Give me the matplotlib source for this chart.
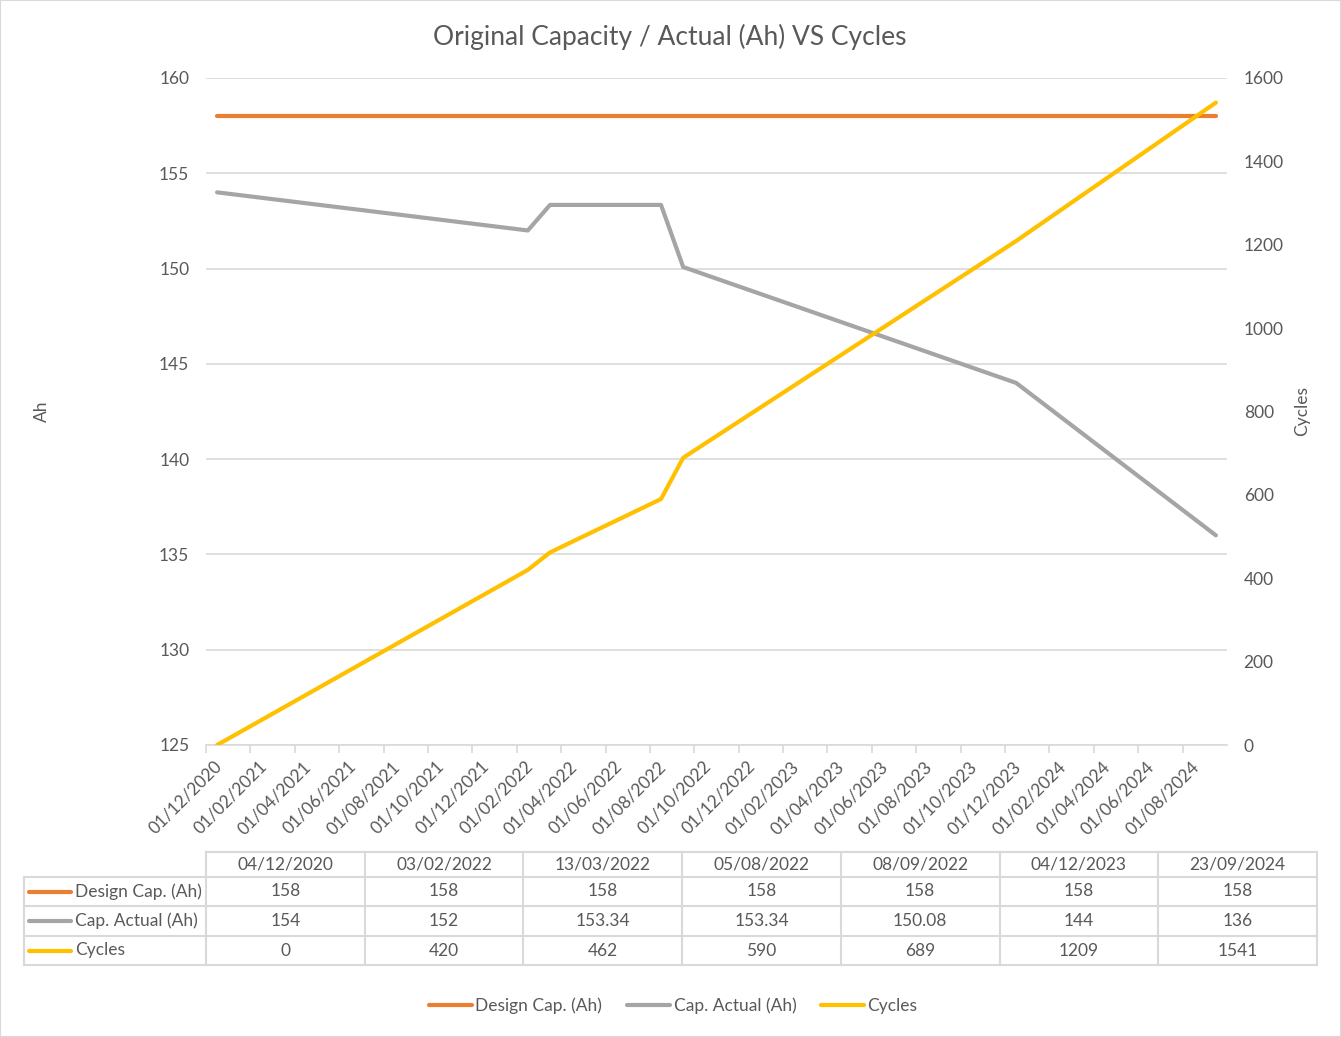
import matplotlib.pyplot as plt
import matplotlib.transforms as mtrans
import pandas as pd
from matplotlib.lines import Line2D
from matplotlib.patches import Rectangle

plt.rcParams['font.family'] = ['Lato', 'DejaVu Sans']

dates = ["04/12/2020", "03/02/2022", "13/03/2022", "05/08/2022",
         "08/09/2022", "04/12/2023", "23/09/2024"]
design_cap = [158, 158, 158, 158, 158, 158, 158]
actual_cap = [154, 152, 153.34, 153.34, 150.08, 144, 136]
cycles = [0, 420, 462, 590, 689, 1209, 1541]

series_names = ["Design Cap. (Ah)", "Cap. Actual (Ah)", "Cycles"]
colors = ["#ED7D31", "#A5A5A5", "#FFC000"]
txt = "#595959"
grid = "#D9D9D9"
fs = 12.5

# date axis with month as base unit (like Excel): each point sits in the
# middle of its month, ticks every 2 months on the 1st
start = pd.Timestamp("2020-12-01")
end = pd.Timestamp("2024-10-01")
d = pd.to_datetime(dates, format="%d/%m/%Y")
x = (d.year - start.year) * 12 + (d.month - start.month) + 0.5
n_months = (end.year - start.year) * 12 + (end.month - start.month)
tick_m = list(range(0, n_months - 1, 2))
tick_lbl = [(start + pd.DateOffset(months=m)).strftime("%d/%m/%Y") for m in tick_m]

W, H = 1341, 1037
fig = plt.figure(figsize=(W / 100, H / 100), dpi=100)
fig.patches.append(Rectangle((0, 0), 1, 1, transform=fig.transFigure,
                             fill=False, edgecolor=grid, linewidth=1.5))

def fx(px):
    return px / W

def fy(py):
    return 1 - py / H

ax = fig.add_axes([fx(206), fy(745), fx(1227) - fx(206), fy(78) - fy(745)])
ax2 = ax.twinx()

ax.plot(x, design_cap, color=colors[0], lw=3, solid_capstyle='round', zorder=3)
ax.plot(x, actual_cap, color=colors[1], lw=3, solid_capstyle='round', zorder=3)
ax2.plot(x, cycles, color=colors[2], lw=3, solid_capstyle='round', zorder=3)

ax.set_ylim(125, 160)
ax.set_yticks(range(125, 161, 5))
ax2.set_ylim(0, 1600)
ax2.set_yticks(range(0, 1601, 200))
ax.set_xlim(0, n_months)
ax.set_xticks(tick_m)
ax.set_xticklabels(tick_lbl)

ax.grid(axis='y', color=grid, lw=1.2)
ax.set_axisbelow(True)
for a in (ax, ax2):
    for s in a.spines.values():
        s.set_visible(False)
ax.spines['bottom'].set_visible(True)
ax.spines['bottom'].set_color(grid)
ax.spines['bottom'].set_linewidth(1.2)

ax.tick_params(axis='y', length=0, labelsize=fs, labelcolor=txt, pad=12)
ax2.tick_params(axis='y', length=0, labelsize=fs, labelcolor=txt, pad=12)
ax.tick_params(axis='x', length=6, color=grid, width=1.2, labelsize=fs,
               labelcolor=txt, direction='out')
shift = mtrans.ScaledTranslation(8 / 100, 0, fig.dpi_scale_trans)
for lab in ax.get_xticklabels():
    lab.set_rotation(45)
    lab.set_ha('right')
    lab.set_rotation_mode('anchor')
    lab.set_transform(lab.get_transform() + shift)

fig.text(fx(42), fy(411), "Ah", rotation=90, ha='center', va='center',
         fontsize=fs, color=txt)
fig.text(fx(1302), fy(411), "Cycles", rotation=90, ha='center', va='center',
         fontsize=fs, color=txt)

fig.text(fx(670), fy(37), "Original Capacity / Actual (Ah) VS Cycles",
         ha='center', va='center', fontsize=19, color=txt)

# data table below the chart
col_l, col_r = 206, 1317
row_y = [852, 877, 906, 936, 965]
cw = (col_r - col_l) / len(dates)

def hline(y, x0, x1):
    fig.add_artist(Line2D([fx(x0), fx(x1)], [fy(y), fy(y)], color=grid, lw=1.5))

def vline(xp, y0, y1):
    fig.add_artist(Line2D([fx(xp), fx(xp)], [fy(y0), fy(y1)], color=grid, lw=1.5))

hline(row_y[0], col_l, col_r)
for y in row_y[1:]:
    hline(y, 24, col_r)
vline(24, row_y[1], row_y[-1])
for i in range(len(dates) + 1):
    vline(col_l + i * cw, row_y[0], row_y[-1])

for i, dl in enumerate(dates):
    fig.text(fx(col_l + (i + 0.5) * cw), fy((row_y[0] + row_y[1]) / 2), dl,
             ha='center', va='center', fontsize=fs, color=txt)

rows = [design_cap, actual_cap, cycles]
for r, (name, vals, c) in enumerate(zip(series_names, rows, colors)):
    yc = fy((row_y[r + 1] + row_y[r + 2]) / 2)
    fig.add_artist(Line2D([fx(29), fx(71)], [yc, yc], color=c, lw=3,
                          solid_capstyle='round'))
    fig.text(fx(75), yc, name, ha='left', va='center', fontsize=fs, color=txt)
    for i, v in enumerate(vals):
        fig.text(fx(col_l + (i + 0.5) * cw), yc, f"{v:g}",
                 ha='center', va='center', fontsize=fs, color=txt)

handles = [Line2D([], [], color=c, lw=3, solid_capstyle='round') for c in colors]
fig.legend(handles, series_names, loc='center', bbox_to_anchor=(fx(673), fy(1006)),
           ncol=3, frameon=False, fontsize=fs, labelcolor=txt,
           handlelength=2.5, handletextpad=0.2, columnspacing=1.4)

fig.savefig("out.png", dpi=100)
